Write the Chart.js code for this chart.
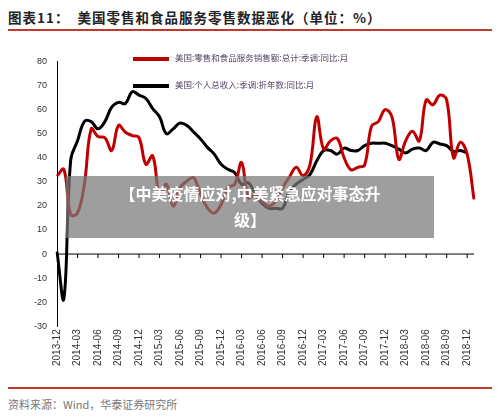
<!DOCTYPE html>
<html><head><meta charset="utf-8">
<script src="https://cdn.jsdelivr.net/npm/chart.js@4"></script>
<style>
body{margin:0;width:500px;height:416px;background:#fff;font-family:"Noto Sans CJK SC",sans-serif;position:relative;overflow:hidden}
#title{position:absolute;left:8px;top:7px;font-size:13.5px;font-weight:bold;color:#222;letter-spacing:1px}
.rule{position:absolute;left:8px;width:484px;height:2px;background:#c0392b}
#wrap{position:absolute;left:0;top:50px;width:490px;height:319px}
.leg{position:absolute;font-size:8.5px;color:#554466}
.leg i{display:inline-block;width:36px;height:4px;margin-right:6px;vertical-align:middle}
#src{position:absolute;left:8px;top:396px;font-size:11px;color:#777}
#banner{position:absolute;left:66px;top:176px;width:368px;height:62px;background:rgba(120,120,120,0.72);color:#fff;font-weight:bold;font-size:16px;line-height:26px;text-align:center;padding-top:4px;box-sizing:border-box}
</style></head><body>
<div id="title">图表11：&nbsp;&nbsp;美国零售和食品服务零售数据恶化（单位：%）</div>
<div class="rule" style="top:29px"></div>
<div id="wrap"><canvas id="c"></canvas></div>
<div class="leg" style="left:133px;top:51px"><i style="background:#c00000"></i>美国:零售和食品服务销售额:总计:季调:同比:月</div>
<div class="leg" style="left:133px;top:78px"><i style="background:#000"></i>美国:个人总收入:季调:折年数:同比:月</div>
<div id="banner">【中美疫情应对,中美紧急应对事态升<br>级】</div>
<div class="rule" style="top:387px"></div>
<div id="src">资料来源：Wind，华泰证券研究所</div>
<script>
// 月份 2013-12 .. 2019-01
const months = [];
for (let y = 2013, m = 12; months.length < 62; m++) {
  if (m > 12) { m = 1; y++; }
  months.push(y + '-' + String(m).padStart(2, '0'));
}
const retail = [32.4, 35.2, 16.4, 17, 29, 52, 48.8, 48.3, 43, 53.4, 50.6, 49.2, 48.3, 37.3, 40.8, 24.8,
  29, 19.9, 27.6, 30.3, 31.7, 24.8, 19.2, 17, 20.6, 27.6, 29, 38, 23.4, 24.8, 22, 20, 22, 27.5,
  32, 36, 32.5, 37, 57, 43.6, 47, 48, 40, 35, 36, 37, 53, 55, 60, 57, 39.4, 47, 51, 47,
  64, 62, 66, 64, 40, 46.4, 41.5, 22.7];
const income = [1, -18.6, 39, 47, 55, 55, 52, 55, 61, 63, 62.5, 67.4, 66, 64.6, 60.4, 57, 50, 52,
  54.4, 53.4, 50.6, 47.8, 44.3, 41.5, 37.3, 35.2, 33.8, 29, 29.6, 25, 21, 19, 19, 19,
  26, 29, 31, 33, 38.7, 43, 43, 41.5, 44, 43, 43, 45, 46, 46, 46, 45, 43.6, 42, 43.6, 44,
  43, 46.4, 45.7, 45, 42.6, 43, 42, null];
const yTicks = [80, 70, 60, 50, 40, 30, 20, 10, 0, -10, -20, -30];
const isQuarter = i => i > 0 && /-(03|06|09|12)$/.test(months[i]);

const zeroAxis = {
  id: 'zeroAxis',
  afterDatasetsDraw(chart) {
    const { ctx, scales: { x, y } } = chart;
    const y0 = y.getPixelForValue(0);
    ctx.save();
    ctx.strokeStyle = '#000';
    ctx.lineWidth = 1;
    ctx.beginPath();
    ctx.moveTo(x.left, y0);
    ctx.lineTo(x.getPixelForValue(61), y0);
    months.forEach((mth, i) => {
      if (isQuarter(i)) {
        const px = x.getPixelForValue(i);
        ctx.moveTo(px, y0);
        ctx.lineTo(px, y0 + 4);
      }
    });
    ctx.stroke();
    ctx.restore();
  }
};

new Chart(document.getElementById('c'), {
  type: 'line',
  data: {
    labels: months,
    datasets: [
      { data: retail, borderColor: '#c00000', borderWidth: 3, pointRadius: 0, tension: 0.4 },
      { data: income, borderColor: '#000', borderWidth: 3, pointRadius: 0, tension: 0.4 }
    ]
  },
  options: {
    responsive: true,
    maintainAspectRatio: false,
    animation: false,
    layout: { padding: { left: 28, right: 16, top: 6 } },
    plugins: { legend: { display: false }, tooltip: { enabled: false } },
    scales: {
      x: {
        grid: { display: false, drawTicks: false },
        border: { display: false },
        ticks: {
          autoSkip: false, maxRotation: 90, minRotation: 90, padding: 3,
          color: '#333', font: { size: 10, family: 'Liberation Sans' },
          callback: (v, i) => (i === 0 || isQuarter(i)) ? months[i] : null
        }
      },
      y: {
        min: -30, max: 80,
        afterBuildTicks: s => { s.ticks = yTicks.map(v => ({ value: v })); },
        grid: { display: false, drawTicks: true, tickLength: 4, tickColor: '#000' },
        border: { color: '#000', width: 1 },
        ticks: { color: '#333', font: { size: 9, family: 'Liberation Sans' }, padding: 6 }
      }
    }
  },
  plugins: [zeroAxis]
});
</script>
</body></html>
